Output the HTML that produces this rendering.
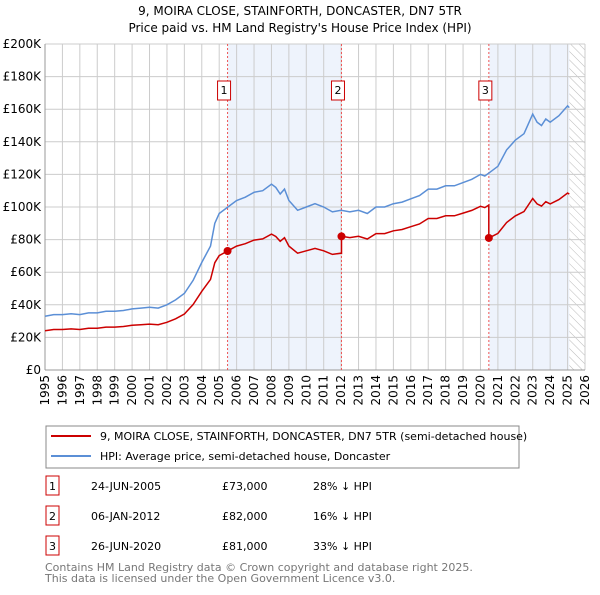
<!DOCTYPE html>
<html><head><meta charset="utf-8"><style>
body{margin:0;background:#fff;font-family:"Liberation Sans","DejaVu Sans",sans-serif;}
svg text{font-family:"DejaVu Sans","Liberation Sans",sans-serif;}
</style></head><body>
<svg id="c" width="600" height="590" viewBox="0 0 600 590" xmlns="http://www.w3.org/2000/svg"></svg>
<script>
const years=[1995,1995.5,1996,1996.5,1997,1997.5,1998,1998.5,1999,1999.5,2000,2000.5,2001,2001.5,2002,2002.5,2003,2003.5,2004,2004.5,2004.75,2005,2005.5,2006,2006.5,2007,2007.5,2008,2008.25,2008.5,2008.75,2009,2009.5,2010,2010.5,2011,2011.5,2012,2012.5,2013,2013.5,2014,2014.5,2015,2015.5,2016,2016.5,2017,2017.5,2018,2018.5,2019,2019.5,2020,2020.25,2020.5,2021,2021.5,2022,2022.5,2023,2023.25,2023.5,2023.75,2024,2024.5,2025,2025.1];
const hpi=[33,34,34,34.5,34,35,35,36,36,36.5,37.5,38,38.5,38,40,43,47,55,66,76,90,96,100,104,106,109,110,114,112,108,111,104,98,100,102,100,97,98,97,98,96,100,100,102,103,105,107,111,111,113,113,115,117,120,119,121,125,135,141,145,157,152,150,154,152,156,162,161];
const saleDates=[2005.48,2012.02,2020.48];
const salePrices=[73,82,81];
const saleLabels=["1","2","3"];
const yTicks=[0,20,40,60,80,100,120,140,160,180,200];
const xTicks=[1995,1996,1997,1998,1999,2000,2001,2002,2003,2004,2005,2006,2007,2008,2009,2010,2011,2012,2013,2014,2015,2016,2017,2018,2019,2020,2021,2022,2023,2024,2025,2026];
const rows=[["1","24-JUN-2005","£73,000","28% ↓ HPI"],["2","06-JAN-2012","£82,000","16% ↓ HPI"],["3","26-JUN-2020","£81,000","33% ↓ HPI"]];
const X0=45,X1=585,Y0=370,Y1=44;
const x=v=>X0+(v-1995)/(2026-1995)*(X1-X0);
const y=v=>Y0-(v/200)*(Y0-Y1);
const svg=document.getElementById('c');const NS='http://www.w3.org/2000/svg';
function add(tag,attrs,name,parent){const e=document.createElementNS(NS,tag);for(const k in attrs)e.setAttribute(k,attrs[k]);


(parent||svg).appendChild(e);return e;}
function txt(s,attrs,name){const t=add('text',attrs,name);t.textContent=s;return t;}
txt("9, MOIRA CLOSE, STAINFORTH, DONCASTER, DN7 5TR",{x:300,y:15,'text-anchor':'middle','font-size':12},'chart-title');
txt("Price paid vs. HM Land Registry's House Price Index (HPI)",{x:300,y:32,'text-anchor':'middle','font-size':12},'chart-subtitle');
function hpiAt(t){for(let i=1;i<years.length;i++){if(t<=years[i]){const f=(t-years[i-1])/(years[i]-years[i-1]);return hpi[i-1]+f*(hpi[i]-hpi[i-1]);}}return hpi[hpi.length-1];}
add('rect',{x:x(saleDates[0]),y:Y1,width:x(saleDates[1])-x(saleDates[0]),height:Y0-Y1,fill:'#eef3fc'},'shade-1');
add('rect',{x:x(saleDates[2]),y:Y1,width:x(2025.1)-x(saleDates[2]),height:Y0-Y1,fill:'#eef3fc'},'shade-2');
const defs=add('defs',{},'defs');
const pat=add('pattern',{id:'h',width:6,height:6,patternUnits:'userSpaceOnUse',patternTransform:'rotate(-45)'},'hatch-pattern',defs);
add('line',{x1:0,y1:0,x2:0,y2:6,stroke:'#bbb','stroke-width':1},'hatch-line',pat);
add('rect',{x:x(2025.1),y:Y1,width:X1-x(2025.1),height:Y0-Y1,fill:'url(#h)'},'future-hatch');
xTicks.forEach(v=>{add('line',{x1:x(v),y1:Y1,x2:x(v),y2:Y0,stroke:'#ccc','stroke-width':1},'x-grid');
txt(String(v),{x:0,y:0,transform:`translate(${x(v)+4},${Y0+5}) rotate(-90)`,'text-anchor':'end','font-size':12},'x-tick-label');});
yTicks.forEach(v=>{add('line',{x1:X0,y1:y(v),x2:X1,y2:y(v),stroke:'#ccc','stroke-width':1},'y-grid');
txt(v===0?'£0':'£'+v+'K',{x:X0-4,y:y(v)+4,'text-anchor':'end','font-size':12},'y-tick-label');});
add('line',{x1:X0,y1:Y0,x2:X1,y2:Y0,stroke:'#999'},'x-axis');
add('line',{x1:X0,y1:Y1,x2:X0,y2:Y0,stroke:'#999'},'y-axis');
saleDates.forEach((d,i)=>{add('line',{x1:x(d),y1:Y1,x2:x(d),y2:Y0,stroke:'#e55','stroke-width':1,'stroke-dasharray':'2,2'},'sale-line-'+(i+1));
add('rect',{x:x(d)-10,y:81,width:13,height:19,fill:'#fff',stroke:'#c00'},'sale-marker-box-'+(i+1));
txt(saleLabels[i],{x:x(d)-3.5,y:94,'text-anchor':'middle','font-size':11},'sale-marker-label-'+(i+1));});
add('path',{d:years.map((t,i)=>(i?'L':'M')+x(t).toFixed(1)+','+y(hpi[i]).toFixed(1)).join(''),fill:'none',stroke:'#5b8fd6','stroke-width':1.5},'hpi-line');
let d='';let first=true;
function seg(t0,t1,k){const pts=[t0].concat(years.filter(t=>t>t0&&t<t1)).concat([t1]);pts.forEach(t=>{const v=hpiAt(t)*salePrices[k]/hpiAt(saleDates[k]);d+=(first?'M':'L')+x(t).toFixed(1)+','+y(v).toFixed(1);first=false;});}
seg(1995,saleDates[0],0);seg(saleDates[0],saleDates[1],0);seg(saleDates[1],saleDates[2],1);seg(saleDates[2],2025.1,2);
add('path',{d:d,fill:'none',stroke:'#cc0000','stroke-width':1.5},'price-line');
saleDates.forEach((t,i)=>add('circle',{cx:x(t),cy:y(salePrices[i]),r:4,fill:'#cc0000'},'sale-point-'+(i+1)));
add('rect',{x:46,y:426,width:473,height:42,fill:'#fff',stroke:'#888'},'legend');
add('line',{x1:51,y1:436,x2:91,y2:436,stroke:'#cc0000','stroke-width':2},'legend-price-swatch');
txt("9, MOIRA CLOSE, STAINFORTH, DONCASTER, DN7 5TR (semi-detached house)",{x:100,y:440,'font-size':11},'legend-price-label');
add('line',{x1:51,y1:456,x2:91,y2:456,stroke:'#5b8fd6','stroke-width':2},'legend-hpi-swatch');
txt("HPI: Average price, semi-detached house, Doncaster",{x:100,y:460,'font-size':11},'legend-hpi-label');
rows.forEach((r,i)=>{const yy=484+i*30;
add('rect',{x:46,y:yy-8,width:13,height:19,fill:'#fff',stroke:'#c00'},'table-badge-'+r[0]);
txt(r[0],{x:52.5,y:yy+6,'text-anchor':'middle','font-size':11},'table-badge-label');
txt(r[1],{x:91,y:yy+6,'font-size':11},'table-date');
txt(r[2],{x:222,y:yy+6,'font-size':11},'table-price');
txt(r[3],{x:313,y:yy+6,'font-size':11},'table-hpi-diff');});
txt("Contains HM Land Registry data © Crown copyright and database right 2025.",{x:45,y:571,'font-size':11,fill:'#777'},'footer-line-1');
txt("This data is licensed under the Open Government Licence v3.0.",{x:45,y:582,'font-size':11,fill:'#777'},'footer-line-2');
</script>
</body></html>
